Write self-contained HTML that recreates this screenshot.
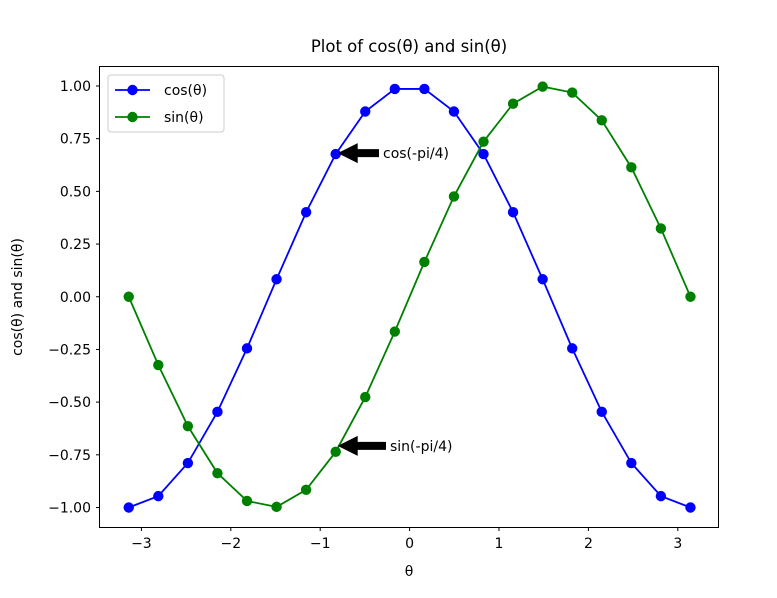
<!DOCTYPE html>
<html><head><meta charset="utf-8"><style>
body{margin:0;background:#fff;}
svg text{font-family:"DejaVu Sans","Liberation Sans",sans-serif;}
</style></head><body>
<svg id="chart" width="777" height="593" viewBox="0 0 777 593" xmlns="http://www.w3.org/2000/svg">
<rect x="0" y="0" width="777" height="593" fill="#fff"/>
<text x="409" y="52" font-size="16.5" text-anchor="middle" fill="#000">Plot of cos(θ) and sin(θ)</text>
<g id="grid"></g>
<g id="series"></g>
<rect x="99.5" y="66.5" width="619" height="461" fill="none" stroke="#000" stroke-width="1"/>
<text x="409" y="576" font-size="14" text-anchor="middle">θ</text>
<text transform="translate(22,297) rotate(-90)" font-size="14" text-anchor="middle">cos(θ) and sin(θ)</text>
<g>
<rect x="108" y="75" width="116" height="57" rx="3" fill="#fff" stroke="#ccc"/>
<line x1="115" y1="90" x2="150" y2="90" stroke="#0000ff" stroke-width="1.8"/>
<circle cx="132.5" cy="90" r="5.2" fill="#0000ff"/>
<text x="164" y="95" font-size="14">cos(θ)</text>
<line x1="115" y1="117" x2="150" y2="117" stroke="#008000" stroke-width="1.8"/>
<circle cx="132.5" cy="117" r="5.2" fill="#008000"/>
<text x="164" y="122" font-size="14">sin(θ)</text>
</g>
<g id="annot"></g>
</svg>
<script>
const thetaValues=[-3.1416,-2.8109,-2.4802,-2.1495,-1.8188,-1.4881,-1.1574,-0.8267,-0.4960,-0.1653,0.1653,0.4960,0.8267,1.1574,1.4881,1.8188,2.1495,2.4802,2.8109,3.1416];
const cosValues=[-1,-0.946,-0.789,-0.546,-0.245,0.083,0.401,0.677,0.879,0.986,0.986,0.879,0.677,0.401,0.083,-0.245,-0.546,-0.789,-0.946,-1];
const sinValues=[0,-0.324,-0.614,-0.837,-0.969,-0.997,-0.916,-0.736,-0.476,-0.165,0.165,0.476,0.736,0.916,0.997,0.969,0.837,0.614,0.324,0];
const xTicks=[-3,-2,-1,0,1,2,3];
const yTicks=[1,0.75,0.5,0.25,0,-0.25,-0.5,-0.75,-1];
const NS="http://www.w3.org/2000/svg";
function xs(v){return 409.6+v*89.4;}
function ys(v){return 296.75-v*210.75;}
function mk(tag,attrs,parent){const e=document.createElementNS(NS,tag);for(const k in attrs)e.setAttribute(k,attrs[k]);parent.appendChild(e);return e;}
const grid=document.getElementById('grid');
xTicks.forEach(t=>{
 const l=mk('line',{x1:xs(t),x2:xs(t),y1:527.5,y2:531,stroke:'#000'},grid);
 
 
 const tx=mk('text',{x:xs(t),y:548,'font-size':14,'text-anchor':'middle'},grid);
 tx.textContent=(t<0?'−':'')+Math.abs(t);
 
 
});
yTicks.forEach(t=>{
 const l=mk('line',{x1:96,x2:99.5,y1:ys(t),y2:ys(t),stroke:'#000'},grid);
 
 
 const tx=mk('text',{x:91,y:ys(t)+5,'font-size':14,'text-anchor':'end'},grid);
 tx.textContent=(t<0?'−':'')+Math.abs(t).toFixed(2);
 
 
});
const ser=document.getElementById('series');
function drawSeries(vals,color,name){
 const pts=thetaValues.map((x,i)=>xs(x)+','+ys(vals[i])).join(' ');
 const pl=mk('polyline',{points:pts,fill:'none',stroke:color,'stroke-width':1.8},ser);
 
 
 thetaValues.forEach((x,i)=>{
  const c=mk('circle',{cx:xs(x),cy:ys(vals[i]),r:5.2,fill:color},ser);
  
  
 });
}
drawSeries(cosValues,'#0000ff','cos');
drawSeries(sinValues,'#008000','sin');
const an=document.getElementById('annot');
function arrow(px,py,tx,label,name){
 const g=mk('g',{},an);
 
 
 mk('polygon',{points:`${px+2},${py} ${px+22},${py-10} ${px+22},${py-4} ${tx-4},${py-4} ${tx-4},${py+4} ${px+22},${py+4} ${px+22},${py+10}`,fill:'#000'},g);
 const t=mk('text',{x:tx,y:py+5,'font-size':14},g);
 t.textContent=label;
}
arrow(xs(-0.8267),ys(0.677)-1,383,'cos(-pi/4)','cos-annotation');
arrow(xs(-0.8267),ys(-0.736)-6,390,'sin(-pi/4)','sin-annotation');
</script>
</body></html>
